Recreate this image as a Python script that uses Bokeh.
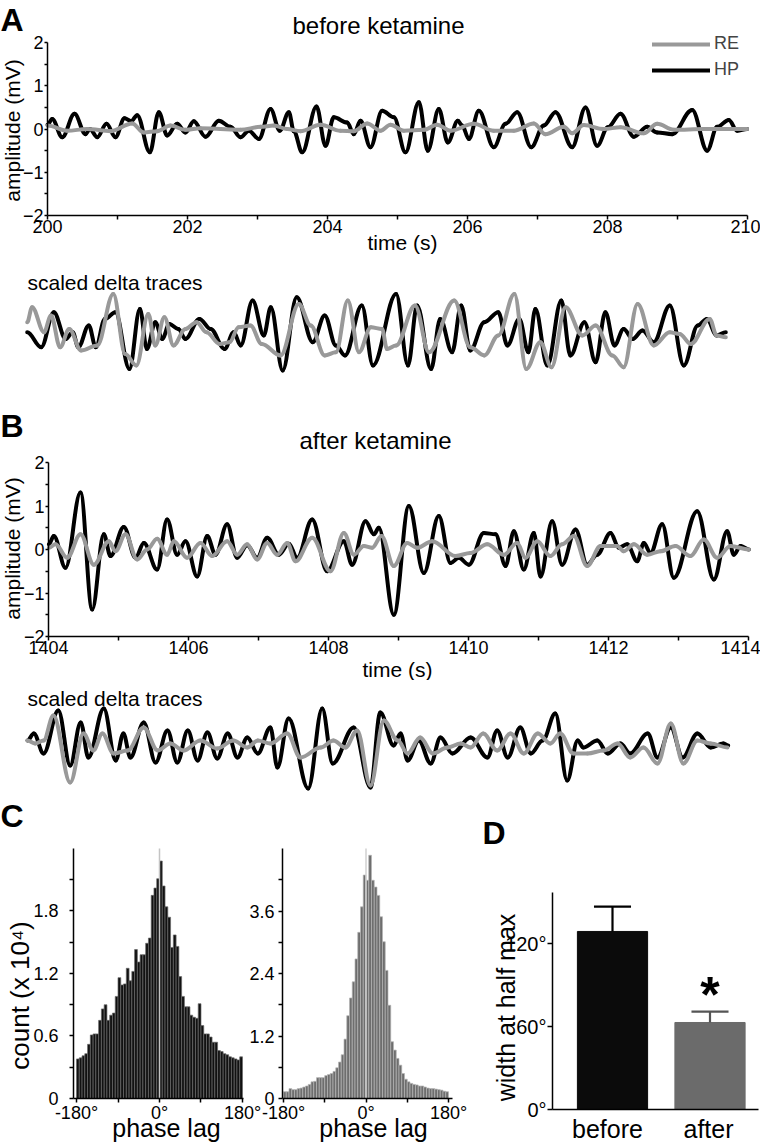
import numpy as np
from math import pi
from bokeh.plotting import figure
from bokeh.layouts import column, row
from bokeh.models import (Range1d, FixedTicker, Label, Legend, LegendItem, LinearAxis,
                          CustomJSTickFormatter)
from bokeh.embed import file_html
from bokeh.resources import INLINE

FONT = "Liberation Sans"

# ---------------- data: panel A (before ketamine) ----------------
A_hp_t = [200.000, 200.067, 200.210, 200.386, 200.543, 200.605, 200.710, 200.843, 200.971, 201.100,
          201.195, 201.281, 201.462, 201.590, 201.710, 201.852, 201.971, 202.090, 202.257, 202.448,
          202.614, 202.757, 202.876, 203.019, 203.186, 203.319, 203.448, 203.519, 203.638, 203.843,
          203.971, 204.090, 204.281, 204.376, 204.471, 204.614, 204.781, 204.948, 205.114, 205.305,
          205.433, 205.590, 205.719, 205.862, 205.924, 206.019, 206.162, 206.376, 206.543, 206.710,
          206.910, 207.090, 207.257, 207.495, 207.686, 207.852, 208.005, 208.186, 208.376, 208.567,
          208.710, 208.924, 209.210, 209.424, 209.567, 209.733, 209.852, 209.995]
A_hp_v = [0.10, 0.23, -0.19, 0.35, -0.12, 0.00, -0.19, 0.12, -0.19, 0.25,
          0.18, 0.32, -0.54, 0.39, -0.15, 0.12, -0.08, 0.18, -0.18, 0.19,
          0.05, -0.19, -0.04, -0.23, 0.46, -0.04, 0.39, -0.05, -0.54, 0.52,
          -0.39, 0.27, 0.15, -0.12, 0.19, -0.42, 0.42, 0.27, -0.54, 0.62,
          -0.50, 0.46, -0.31, 0.19, 0.08, -0.23, 0.42, -0.42, 0.12, 0.39,
          -0.42, 0.08, 0.39, -0.42, 0.50, -0.39, 0.04, 0.35, -0.18, 0.05,
          -0.08, -0.12, 0.44, -0.50, 0.05, 0.21, -0.04, 0.00]
A_re_t = [200.000, 200.281, 200.567, 200.900, 201.210, 201.376, 201.567, 201.757, 201.971, 202.186,
          202.471, 202.757, 203.043, 203.233, 203.424, 203.614, 203.900, 204.186, 204.376, 204.567,
          204.757, 204.900, 205.090, 205.376, 205.567, 205.757, 206.090, 206.376, 206.662, 206.948,
          207.114, 207.376, 207.495, 207.662, 207.948, 208.186, 208.519, 208.710, 208.948, 209.376,
          209.995]
A_re_v = [0.08, -0.04, 0.00, -0.05, 0.13, -0.08, -0.05, 0.08, -0.02, 0.02,
          0.00, -0.02, 0.05, 0.08, 0.00, -0.05, 0.10, -0.04, -0.05, 0.13,
          -0.04, 0.10, -0.04, -0.02, 0.10, -0.04, 0.12, -0.04, -0.04, 0.13,
          -0.12, 0.05, -0.10, 0.09, 0.00, 0.04, -0.10, 0.12, -0.02, 0.00,
          0.00]

# scaled delta traces (arbitrary units), panel A
As_hp_t = [199.71, 199.91, 200.09, 200.26, 200.36, 200.44, 200.59, 200.69, 200.82, 200.97,
           201.17, 201.32, 201.42, 201.54, 201.64, 201.74, 201.87, 201.97, 202.17, 202.33,
           202.53, 202.66, 202.76, 202.93, 203.09, 203.19, 203.36, 203.56, 203.79, 203.96,
           204.12, 204.25, 204.49, 204.65, 204.98, 205.15, 205.28, 205.48, 205.61, 205.78,
           205.91, 206.04, 206.24, 206.44, 206.57, 206.74, 206.87, 206.97, 207.14, 207.34,
           207.47, 207.67, 207.83, 207.97, 208.10, 208.23, 208.36, 208.50, 208.66, 208.89,
           209.09, 209.29, 209.42, 209.56, 209.69]
As_hp_v = [0.00, -0.60, 0.80, -0.27, 0.00, -0.60, 0.27, -0.60, 0.53, 0.80,
           -1.47, 0.93, -0.67, 0.40, -0.27, 0.33, 0.13, -0.27, 0.53, 0.13,
           -0.67, 0.00, -0.53, 1.27, -0.13, 1.00, -1.53, 1.40, -0.40, 0.67,
           -0.53, -0.93, 1.07, -1.33, 1.53, -1.33, 1.07, -1.47, 0.53, -0.80,
           1.07, -0.73, 0.40, 0.80, -0.53, 0.53, -0.80, 0.93, -1.33, 1.27,
           -0.93, 0.40, -1.20, 0.80, -0.53, 0.13, -0.27, 0.07, -0.40, 1.07,
           -1.33, 0.27, 0.53, -0.13, 0.00]
As_re_t = [199.71, 199.78, 199.95, 200.05, 200.18, 200.31, 200.48, 200.71, 200.94, 201.11,
           201.27, 201.44, 201.54, 201.67, 201.80, 201.97, 202.13, 202.27, 202.46, 202.60,
           202.73, 202.90, 203.06, 203.33, 203.59, 203.76, 203.96, 204.12, 204.29, 204.45,
           204.62, 204.78, 204.85, 204.98, 205.25, 205.45, 205.81, 206.04, 206.24, 206.44,
           206.67, 206.84, 207.04, 207.20, 207.40, 207.64, 207.83, 208.07, 208.23, 208.43,
           208.66, 208.89, 209.03, 209.19, 209.46, 209.56, 209.69]
As_re_v = [0.40, 1.00, 0.00, 0.67, -0.60, 0.13, -0.73, -0.53, 1.53, -0.87,
           -1.33, 0.73, -0.53, 0.60, -0.53, 0.13, 0.40, 0.00, -0.47, -0.40,
           0.20, 0.27, -0.47, -0.93, 1.13, 0.27, -0.93, -0.80, 1.27, -0.80,
           0.20, 0.13, -0.67, -0.53, 1.07, -0.80, 1.27, -0.60, -0.93, -0.13,
           1.53, -1.47, -0.40, -1.40, 1.00, -0.13, 0.27, -0.93, -1.40, 1.13,
           -0.53, 0.00, -0.07, -0.47, 0.53, -0.13, -0.20]

# ---------------- data: panel B (after ketamine) ----------------
B_hp_t = [1404.005, 1404.076, 1404.243, 1404.457, 1404.624, 1404.790, 1404.886, 1405.076, 1405.243, 1405.362,
          1405.552, 1405.695, 1405.838, 1405.957, 1406.124, 1406.267, 1406.386, 1406.552, 1406.695, 1406.838,
          1406.981, 1407.124, 1407.290, 1407.433, 1407.552, 1407.767, 1407.981, 1408.219, 1408.338, 1408.529,
          1408.648, 1408.719, 1408.933, 1409.148, 1409.362, 1409.576, 1409.743, 1409.862, 1410.005, 1410.219,
          1410.386, 1410.529, 1410.648, 1410.790, 1410.933, 1411.029, 1411.195, 1411.338, 1411.529, 1411.695,
          1411.838, 1412.029, 1412.148, 1412.267, 1412.410, 1412.505, 1412.600, 1412.767, 1412.933, 1413.267,
          1413.505, 1413.695, 1413.790, 1413.886, 1414.005]
B_hp_v = [0.12, 0.31, -0.42, 1.31, -1.38, 0.35, -0.15, 0.52, -0.19, 0.15,
          -0.46, 0.69, -0.12, 0.19, -0.62, 0.31, -0.12, 0.58, -0.19, 0.10,
          -0.19, 0.27, -0.12, 0.13, -0.19, 0.69, -0.50, 0.19, -0.35, 0.65,
          0.35, 0.50, -1.50, 1.00, -0.54, 0.77, -0.31, -0.19, -0.35, 0.38,
          0.35, -0.38, 0.42, -0.46, 0.38, -0.62, 0.65, -0.35, 0.46, -0.35,
          -0.12, 0.38, 0.04, 0.12, -0.27, 0.15, -0.08, 0.58, -0.65, 0.88,
          -0.69, 0.42, -0.12, 0.08, 0.00]
B_re_t = [1404.005, 1404.100, 1404.267, 1404.457, 1404.648, 1404.862, 1404.957, 1405.100, 1405.267, 1405.410,
          1405.552, 1405.695, 1405.790, 1405.981, 1406.171, 1406.338, 1406.552, 1406.695, 1406.838, 1406.981,
          1407.124, 1407.267, 1407.410, 1407.529, 1407.767, 1408.029, 1408.219, 1408.362, 1408.505, 1408.624,
          1408.757, 1408.933, 1409.124, 1409.267, 1409.481, 1409.814, 1410.029, 1410.267, 1410.505, 1410.695,
          1410.814, 1410.981, 1411.171, 1411.338, 1411.505, 1411.695, 1411.886, 1412.124, 1412.219, 1412.362,
          1412.552, 1412.743, 1412.957, 1413.171, 1413.362, 1413.552, 1413.743, 1414.005]
B_re_v = [0.04, 0.12, -0.19, 0.35, -0.35, 0.19, -0.04, 0.35, -0.23, 0.00,
          0.25, -0.12, 0.19, -0.19, 0.15, -0.15, 0.19, -0.12, 0.12, -0.23,
          0.15, -0.12, 0.15, -0.27, 0.27, -0.50, 0.38, -0.12, 0.08, 0.04,
          0.31, -0.38, 0.15, 0.04, 0.19, -0.15, -0.08, 0.12, -0.12, 0.15,
          -0.19, 0.19, -0.15, 0.12, 0.31, -0.38, 0.08, 0.08, -0.04, 0.12,
          -0.12, -0.04, 0.08, -0.15, 0.23, -0.19, 0.08, 0.00]

# scaled delta traces (arbitrary units), panel B
Bs_hp_t = [1403.70, 1403.79, 1403.93, 1404.14, 1404.31, 1404.46, 1404.57, 1404.79, 1404.96, 1405.07,
           1405.17, 1405.36, 1405.53, 1405.70, 1405.84, 1405.99, 1406.13, 1406.27, 1406.41, 1406.56,
           1406.70, 1406.84, 1406.99, 1407.17, 1407.27, 1407.43, 1407.71, 1407.91, 1408.06, 1408.36,
           1408.60, 1408.74, 1408.93, 1409.03, 1409.13, 1409.29, 1409.46, 1409.60, 1409.77, 1410.03,
           1410.27, 1410.41, 1410.56, 1410.74, 1410.89, 1411.06, 1411.24, 1411.41, 1411.56, 1411.64,
           1411.84, 1411.99, 1412.17, 1412.31, 1412.56, 1412.70, 1412.89, 1413.06, 1413.27, 1413.46,
           1413.64, 1413.71]
Bs_hp_v = [0.32, 0.60, -0.20, 1.52, -0.68, 1.04, -0.36, 1.60, -0.48, 0.60,
           -0.36, 1.04, -0.56, 0.72, -0.56, 0.72, -0.48, 0.64, -0.40, 0.60,
           -0.36, 0.44, -0.20, 0.84, -0.76, 1.20, -1.60, 1.60, -0.60, 0.84,
           -1.56, 1.44, 0.12, 0.60, -0.48, 0.32, -0.60, 0.44, -0.20, 0.44,
           -0.36, 0.72, -0.36, 0.84, -0.20, 0.32, 1.40, -1.28, 0.32, 0.04,
           0.32, -0.20, 0.20, -0.20, 0.60, -0.36, 0.84, -0.36, 0.60, 0.04,
           0.20, 0.12]
Bs_re_t = [1403.70, 1403.81, 1403.93, 1404.07, 1404.31, 1404.50, 1404.64, 1404.77, 1404.93, 1405.13,
           1405.36, 1405.56, 1405.74, 1405.93, 1406.17, 1406.41, 1406.64, 1406.84, 1406.99, 1407.17,
           1407.41, 1407.60, 1407.89, 1408.07, 1408.24, 1408.41, 1408.60, 1408.79, 1408.99, 1409.13,
           1409.31, 1409.49, 1409.70, 1409.89, 1410.03, 1410.21, 1410.41, 1410.60, 1410.79, 1410.99,
           1411.17, 1411.31, 1411.50, 1411.70, 1411.93, 1412.13, 1412.31, 1412.50, 1412.70, 1412.89,
           1413.07, 1413.27, 1413.46, 1413.70]
Bs_re_v = [0.32, 0.20, 0.32, 1.32, -1.36, 0.60, -0.08, 0.60, -0.20, -0.08,
           0.84, -0.08, 0.20, -0.08, 0.32, 0.00, 0.32, 0.04, 0.32, 0.20,
           0.60, -0.36, 0.04, 0.32, 0.04, 0.72, -1.48, 1.12, 0.32, -0.20,
           0.44, -0.20, 0.04, 0.20, 0.04, 0.60, -0.08, 0.60, -0.20, 0.60,
           0.20, 0.60, -0.20, -0.20, -0.08, 0.20, -0.36, 0.04, -0.60, 1.00,
           -0.60, 0.32, 0.20, 0.04]

# ---------------- data: panel C (phase-lag histograms, counts x 10^4) ----------------
bin_edges = np.linspace(-180, 180, 61)
C_before = [0.38, 0.39, 0.41, 0.43, 0.52, 0.61, 0.62, 0.62, 0.75, 0.86,
            0.90, 0.75, 0.80, 0.82, 0.98, 1.16, 1.09, 1.10, 1.25, 1.13,
            1.22, 1.43, 1.31, 1.38, 1.38, 1.49, 1.54, 1.95, 2.02, 2.11,
            2.28, 2.04, 1.84, 1.74, 1.45, 1.57, 1.46, 1.17, 0.98, 0.88,
            0.88, 0.80, 0.78, 0.77, 0.91, 0.70, 0.62, 0.62, 0.59, 0.54,
            0.54, 0.46, 0.45, 0.43, 0.42, 0.40, 0.39, 0.38, 0.37, 0.40]
C_after = [0.13, 0.13, 0.19, 0.17, 0.17, 0.19, 0.20, 0.22, 0.24, 0.27,
           0.32, 0.33, 0.40, 0.40, 0.40, 0.44, 0.46, 0.48, 0.52, 0.59,
           0.70, 0.84, 1.14, 1.59, 1.93, 2.24, 2.68, 3.19, 3.68, 4.29,
           4.19, 4.67, 4.19, 4.06, 3.90, 3.49, 3.01, 2.46, 1.79, 1.09,
           0.93, 0.77, 0.64, 0.48, 0.37, 0.32, 0.29, 0.27, 0.26, 0.24,
           0.24, 0.22, 0.20, 0.19, 0.19, 0.18, 0.17, 0.16, 0.14, 0.13]
C_before_top = 2.4
C_after_top = 4.8

# ---------------- data: panel D ----------------
D_groups = ["before", "after"]
D_mean = [128.7, 62.9]
D_err = [18.0, 7.9]
D_top = 157
D_colors = ["#0b0b0b", "#6b6b6b"]
D_err_colors = ["#000000", "#555555"]


class Box:
    """A figure whose plotting frame fills the whole figure; (X0..X1, Y0..Y1) is its
    place on the page, and the linear mapping says where a data value lands."""

    def __init__(self, X0, X1, Y0, Y1, xa, xpa, xk, ya, ypa, yk):
        self.X0, self.X1, self.Y0, self.Y1 = X0, X1, Y0, Y1
        self.xa, self.xpa, self.xk = xa, xpa, xk
        self.ya, self.ypa, self.yk = ya, ypa, yk

    def x(self, px):
        return self.xa + (px - self.xpa) / self.xk

    def y(self, py):
        return self.ya + (self.ypa - py) / self.yk

    def xr(self):
        return Range1d(self.x(self.X0), self.x(self.X1))

    def yr(self):
        return Range1d(self.y(self.Y1), self.y(self.Y0))

    def fig(self):
        p = figure(width=self.X1 - self.X0, height=self.Y1 - self.Y0,
                   x_range=self.xr(), y_range=self.yr(),
                   output_backend="svg", toolbar_location=None,
                   min_border_left=0, min_border_right=0, min_border_top=0, min_border_bottom=0)
        p.title.visible = False
        p.outline_line_color = None
        p.grid.visible = False
        p.background_fill_color = "white"
        p.border_fill_color = "white"
        self.p = p
        return p

    def text(self, px, py, text, size, align="center", bold=False, angle=0.0):
        self.p.add_layout(Label(x=self.x(px), y=self.y(py), text=text, text_font=FONT,
                                text_font_size=f"{size}px", text_align=align,
                                text_baseline="middle", angle=angle, text_color="black",
                                text_font_style="bold" if bold else "normal"))


def style_axis(ax, size, tick_out=4, standoff=2):
    ax.axis_line_width = 1.5
    ax.axis_line_color = "black"
    ax.major_tick_line_width = 1.5
    ax.minor_tick_line_width = 1.5
    ax.major_tick_out = tick_out
    ax.major_tick_in = 0
    ax.minor_tick_out = tick_out
    ax.minor_tick_in = 0
    ax.major_label_text_font = FONT
    ax.major_label_text_font_size = f"{size}px"
    ax.major_label_text_color = "black"
    ax.major_label_standoff = standoff


def hide_axes(p):
    p.xaxis.visible = False
    p.yaxis.visible = False


def trace(p, t, v, color):
    """Draw a trace through its read-off turning points, with smooth (Bezier) segments."""
    t = np.asarray(t, dtype=float)
    v = np.asarray(v, dtype=float)
    dt = np.diff(t)
    return p.bezier(x0=t[:-1], y0=v[:-1], x1=t[1:], y1=v[1:],
                    cx0=t[:-1] + 0.36 * dt, cy0=v[:-1], cx1=t[1:] - 0.36 * dt, cy1=v[1:],
                    line_color=color, line_width=4, line_cap="round")


BLACK = "#000000"
GRAY = "#999999"
W = 760

# ================= Panel A: traces =================
bA = Box(0, W, 0, 262, 200, 47, 70.0, 0, 128.5, 43.25)
pA = bA.fig()
hpA = trace(pA, A_hp_t, A_hp_v, BLACK)
reA = trace(pA, A_re_t, A_re_v, GRAY)
pA.xaxis.fixed_location = -2
pA.xaxis.bounds = (200, 210)
pA.yaxis.fixed_location = 200
pA.yaxis.bounds = (-2, 2)
pA.xaxis.ticker = FixedTicker(ticks=[200, 202, 204, 206, 208, 210], minor_ticks=[201, 203, 205, 207, 209])
pA.yaxis.ticker = FixedTicker(ticks=[-2, -1, 0, 1, 2], minor_ticks=[-1.5, -0.5, 0.5, 1.5])
style_axis(pA.xaxis[0], 18, 4, 0)
style_axis(pA.yaxis[0], 18, 3, 1)
legA = Legend(items=[LegendItem(label="RE", renderers=[reA]), LegendItem(label="HP", renderers=[hpA])],
              location=(652, 262 - 80), orientation="vertical", padding=0, margin=0, spacing=5,
              glyph_width=58, glyph_height=20, label_height=20, label_standoff=4,
              label_text_font=FONT, label_text_font_size="18px",
              border_line_color=None, background_fill_alpha=0)
pA.add_layout(legA)
bA.text(0, 19, "A", 32, align="left", bold=True)
bA.text(378, 25, "before ketamine", 24)
bA.text(402, 242, "time (s)", 21)
bA.text(12, 130, "amplitude (mV)", 21, angle=pi / 2)

# ================= Panel A: scaled traces =================
bAs = Box(0, W, 262, 385, 200, 47, 70.0, 0, 331.7, 25.0)
pAs = bAs.fig()
hide_axes(pAs)
trace(pAs, As_hp_t, As_hp_v, BLACK)
trace(pAs, As_re_t, As_re_v, GRAY)
bAs.text(27, 282, "scaled delta traces", 21, align="left")

# ================= Panel B: traces =================
bB = Box(0, W, 385, 680, 1404, 48, 70.0, 0, 549, 43.5)
pB = bB.fig()
trace(pB, B_hp_t, B_hp_v, BLACK)
trace(pB, B_re_t, B_re_v, GRAY)
pB.xaxis.fixed_location = -2
pB.xaxis.bounds = (1404, 1414)
pB.yaxis.fixed_location = 1404
pB.yaxis.bounds = (-2, 2)
pB.xaxis.ticker = FixedTicker(ticks=[1404, 1406, 1408, 1410, 1412, 1414],
                              minor_ticks=[1405, 1407, 1409, 1411, 1413])
pB.yaxis.ticker = FixedTicker(ticks=[-2, -1, 0, 1, 2], minor_ticks=[-1.5, -0.5, 0.5, 1.5])
style_axis(pB.xaxis[0], 18, 4, 0)
style_axis(pB.yaxis[0], 18, 3, 1)
bB.text(0, 425, "B", 32, align="left", bold=True)
bB.text(375, 440, "after ketamine", 24)
bB.text(397, 669, "time (s)", 21)
bB.text(12, 548, "amplitude (mV)", 21, angle=pi / 2)

# ================= Panel B: scaled traces =================
bBs = Box(0, W, 680, 795, 1404, 48, 70.0, 0, 748, 25.0)
pBs = bBs.fig()
hide_axes(pBs)
trace(pBs, Bs_hp_t, Bs_hp_v, BLACK)
trace(pBs, Bs_re_t, Bs_re_v, GRAY)
bBs.text(27, 698, "scaled delta traces", 21, align="left")

# ================= Panel C (both histograms in one figure) =================
deg_fmt = CustomJSTickFormatter(code="return tick + '\u00b0';")
cnt_fmt = CustomJSTickFormatter(code="return tick == 0 ? '0' : tick.toFixed(1);")

HB = 1142
bC = Box(0, 470, 795, HB, 0, 159, 0.4611, 0, 1098, 104.17)       # left histogram scales
bC2 = Box(0, 470, 795, HB, 0, 365.5, 0.4583, 0, 1098, 52.08)     # right histogram scales
pC = bC.fig()
pC.extra_x_ranges = {"c2x": bC2.xr()}
pC.extra_y_ranges = {"c2y": bC2.yr()}

# left: before
pC.quad(left=bin_edges[:-1], right=bin_edges[1:], bottom=0, top=C_before,
        fill_color="#111111", line_color="#6a6a6a", line_width=0.7)
pC.segment(x0=[0], y0=[0], x1=[0], y1=[C_before_top], line_color="#c4c4c4", line_width=1.5)
xl1 = bC.x(73)
ax1x = pC.xaxis[0]
ax1y = pC.yaxis[0]
ax1x.fixed_location = 0
ax1x.bounds = (xl1, bC.x(243))
ax1y.fixed_location = xl1
ax1y.bounds = (0, C_before_top)
ax1x.ticker = FixedTicker(ticks=[-180, 0, 180], minor_ticks=[-90, 90])
ax1y.ticker = FixedTicker(ticks=[0, 0.6, 1.2, 1.8], minor_ticks=[0.3, 0.9, 1.5, 2.1])
ax1x.formatter = deg_fmt
ax1y.formatter = cnt_fmt
style_axis(ax1x, 18, 4, 0)
style_axis(ax1y, 18, 4, 11)

# right: after
pC.quad(left=bin_edges[:-1], right=bin_edges[1:], bottom=0, top=C_after,
        fill_color="#6e6e6e", line_color="#b4b4b4", line_width=0.7,
        x_range_name="c2x", y_range_name="c2y")
pC.segment(x0=[0], y0=[0], x1=[0], y1=[C_after_top], line_color="#d0d0d0", line_width=1.5,
           x_range_name="c2x", y_range_name="c2y")
xl2 = bC2.x(282)
ax2x = LinearAxis(x_range_name="c2x", y_range_name="c2y", fixed_location=0,
                  bounds=(xl2, bC2.x(452)),
                  ticker=FixedTicker(ticks=[-180, 0, 180], minor_ticks=[-90, 90]),
                  formatter=CustomJSTickFormatter(code="return tick + '\u00b0';"))
ax2y = LinearAxis(x_range_name="c2x", y_range_name="c2y", fixed_location=xl2,
                  bounds=(0, C_after_top),
                  ticker=FixedTicker(ticks=[0, 1.2, 2.4, 3.6], minor_ticks=[0.6, 1.8, 3.0, 4.2]),
                  formatter=CustomJSTickFormatter(code="return tick == 0 ? '0' : tick.toFixed(1);"))
style_axis(ax2x, 18, 4, 0)
style_axis(ax2y, 18, 4, 4)
pC.add_layout(ax2x, "below")
pC.add_layout(ax2y, "left")

bC.text(0, 815, "C", 32, align="left", bold=True)
bC.text(19, 995, "count (x 10\u2074)", 26, angle=pi / 2)
bC.text(166, 1127, "phase lag", 25)
bC.text(373, 1127, "phase lag", 25)

# ================= Panel D =================
bD = Box(470, W, 795, HB, 1, 612, 97.5, 0, 1109, 83.0 / 60.0)
pD = bD.fig()
xs = [1, 2]
pD.vbar(x=xs, top=D_mean, width=0.72, fill_color=D_colors, line_color=D_colors)
upper = [m + e for m, e in zip(D_mean, D_err)]
pD.segment(x0=xs, y0=D_mean, x1=xs, y1=upper, line_color=D_err_colors, line_width=2.2)
pD.segment(x0=[x - 0.19 for x in xs], y0=upper, x1=[x + 0.19 for x in xs], y1=upper,
           line_color=D_err_colors, line_width=2.2)
xlD = bD.x(552)
pD.xaxis.fixed_location = 0
pD.xaxis.bounds = (xlD, bD.x(758))
pD.yaxis.fixed_location = xlD
pD.yaxis.bounds = (0, D_top)
pD.xaxis.ticker = FixedTicker(ticks=[])
pD.yaxis.ticker = FixedTicker(ticks=[0, 60, 120])
pD.yaxis.formatter = deg_fmt
style_axis(pD.xaxis[0], 20, 0, 0)
style_axis(pD.yaxis[0], 20, 5, 1)
bD.text(482, 832, "D", 32, align="left", bold=True)
bD.text(505, 1007, "width at half max", 25, angle=pi / 2)
bD.text(709.5, 994, "*", 50, bold=True)
for g, xc in zip(D_groups, [607, 708]):
    bD.text(xc, 1128, g, 25)

layout = column(pA, pAs, pB, pBs, row(pC, pD, spacing=0), spacing=0)
open("out.html", "w").write(file_html(layout, INLINE))
